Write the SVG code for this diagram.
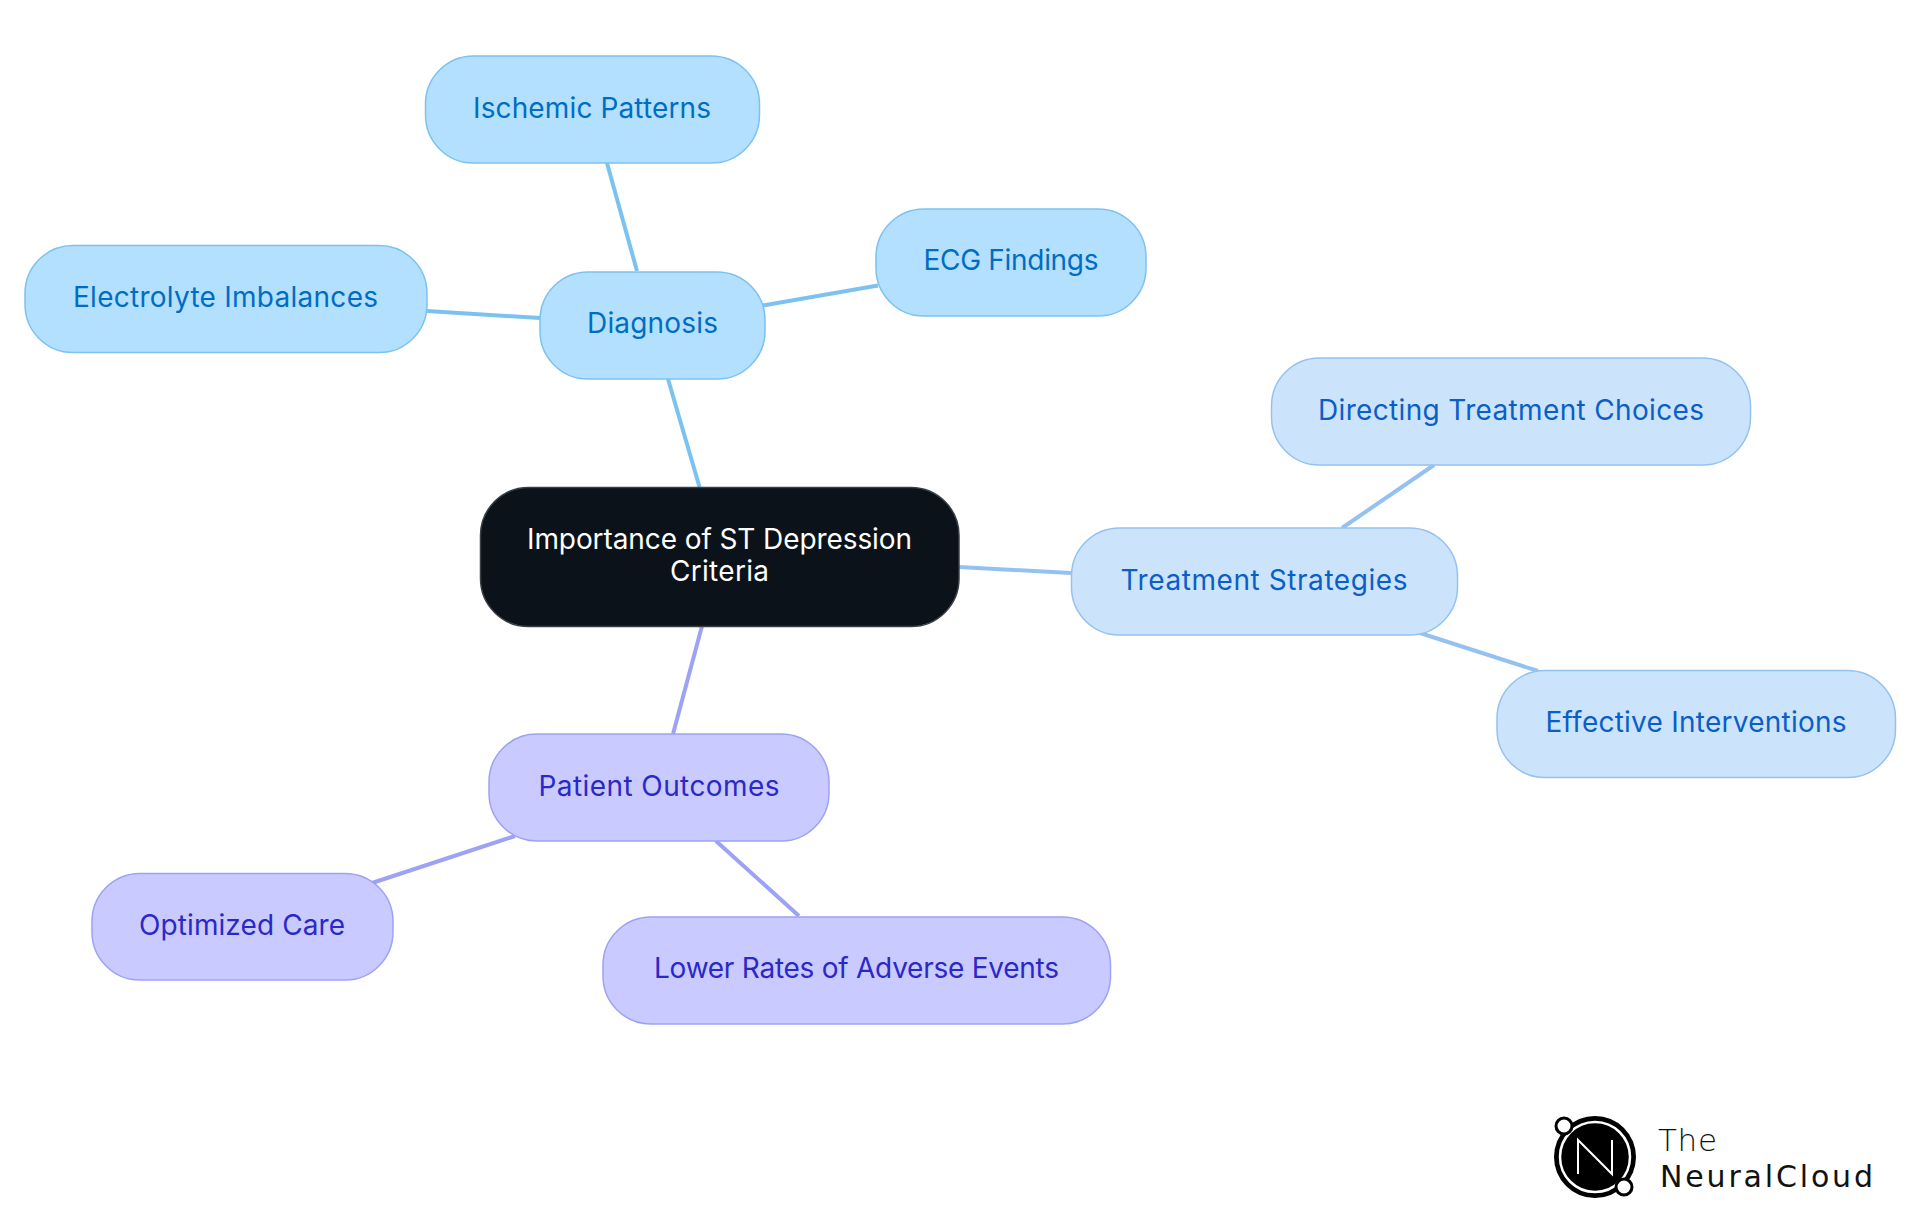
<svg xmlns="http://www.w3.org/2000/svg" width="1920" height="1215" viewBox="0 0 1920 1215">
<style>
text{font-family:"Inter","Noto Sans",sans-serif;font-size:28px;font-weight:380;text-anchor:middle}
.c{fill:none;stroke-width:4}
.n{stroke-width:1.5}
.d .n{fill:#b3e0ff;stroke:#7cc2f0}.d text{fill:#006dc4}
.t .n{fill:#cce3fc;stroke:#94c2f0}.t text{fill:#0a5ec8}
.p .n{fill:#c9caff;stroke:#9da2f5}.p text{fill:#2c28c8}
.r .n{fill:#0b1219;stroke:#3a3f44}.r text{fill:#fff}
#logo text{font-family:"DejaVu Sans",sans-serif;text-anchor:start;fill:#111;font-weight:400}
</style>
<rect width="1920" height="1215" fill="#fff"/>
<g id="connectors">
<g class="c" stroke="#7cc2f0">
<line x1="668" y1="379" x2="699.500" y2="487"/>
<line x1="607" y1="163" x2="637" y2="271"/>
<line x1="763" y1="305.500" x2="878" y2="285.500"/>
<line x1="427" y1="311" x2="540" y2="318"/>
</g>
<g class="c" stroke="#94c2f0">
<line x1="959" y1="567" x2="1071" y2="573"/>
<line x1="1342" y1="528" x2="1434" y2="465"/>
<line x1="1420" y1="633" x2="1538" y2="671"/>
</g>
<g class="c" stroke="#9da2f5">
<line x1="702" y1="626" x2="673" y2="734"/>
<line x1="515" y1="836" x2="372" y2="883"/>
<line x1="716" y1="841" x2="799" y2="916"/>
</g>
</g>
<g id="root" class="r"><rect class="n" x="480.500" y="487.500" width="478.500" height="139" rx="48"/><text x="719.500" y="549" textLength="385">Importance of ST Depression</text><text x="719.500" y="581" textLength="99">Criteria</text></g>
<g id="diagnosis" class="d"><rect class="n" x="540" y="272" width="225" height="107" rx="48"/><text x="652.500" y="333" textLength="131">Diagnosis</text></g>
<g id="ischemic" class="d"><rect class="n" x="425.500" y="56" width="334" height="107" rx="48"/><text x="592" y="118" textLength="238">Ischemic Patterns</text></g>
<g id="ecg" class="d"><rect class="n" x="876" y="209" width="270" height="107" rx="48"/><text x="1011" y="270" textLength="175">ECG Findings</text></g>
<g id="electrolyte" class="d"><rect class="n" x="25" y="245.500" width="402" height="107" rx="48"/><text x="225.500" y="307" textLength="305">Electrolyte Imbalances</text></g>
<g id="treatment" class="t"><rect class="n" x="1071.500" y="528" width="386" height="107" rx="48"/><text x="1264" y="590" textLength="287">Treatment Strategies</text></g>
<g id="directing" class="t"><rect class="n" x="1271.500" y="358" width="479" height="107" rx="48"/><text x="1511" y="420" textLength="386">Directing Treatment Choices</text></g>
<g id="effective" class="t"><rect class="n" x="1497" y="670.500" width="398.500" height="107" rx="48"/><text x="1696" y="732" textLength="301">Effective Interventions</text></g>
<g id="patient" class="p"><rect class="n" x="489" y="734" width="340" height="107" rx="48"/><text x="659" y="796" textLength="241">Patient Outcomes</text></g>
<g id="optimized" class="p"><rect class="n" x="92" y="873.500" width="301" height="106.500" rx="48"/><text x="242" y="935" textLength="206">Optimized Care</text></g>
<g id="lower" class="p"><rect class="n" x="603" y="917" width="507.500" height="107" rx="48"/><text x="856.500" y="978" textLength="405">Lower Rates of Adverse Events</text></g>
<g id="logo">
<circle cx="1595" cy="1157" r="41" fill="#000"/>
<circle cx="1595" cy="1157" r="35" fill="none" stroke="#fff" stroke-width="2.500"/>
<circle cx="1564" cy="1126" r="8" fill="#fff" stroke="#000" stroke-width="3"/>
<circle cx="1624" cy="1187" r="8" fill="#fff" stroke="#000" stroke-width="3"/>
<path d="M1578 1174V1140L1612 1174V1140" fill="none" stroke="#fff" stroke-width="2"/>
<text x="1658" y="1151" textLength="59" style="font-size:31px;font-weight:200">The</text>
<text x="1660" y="1186.500" textLength="213" style="font-size:30px">NeuralCloud</text>
</g>
</svg>
